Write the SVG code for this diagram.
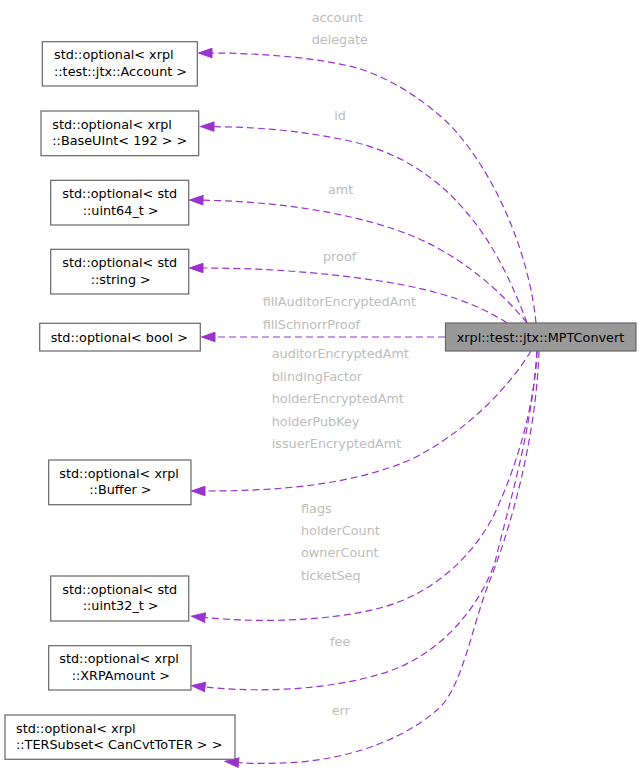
<svg xmlns="http://www.w3.org/2000/svg" width="641" height="770" viewBox="0 0 641 770">
<defs>
<style>
text{font-family:"DejaVu Sans","Liberation Sans",sans-serif;font-size:12.8px}
.n rect{fill:#ffffff;stroke:#666666;stroke-width:1.2}
.n text{fill:#000000}
.main rect{fill:#999999;stroke:#666666;stroke-width:1.2}
.e{fill:none;stroke:#9a32cd;stroke-width:1.2;stroke-dasharray:7,4;marker-end:url(#ah)}
.lbl{fill:#bdbdbd}
</style>
<marker id="ah" markerUnits="userSpaceOnUse" markerWidth="16" markerHeight="12" refX="0" refY="5" orient="auto" viewBox="0 0 16 10" overflow="visible">
<polygon points="0,0.3 13.5,5 0,9.7" fill="#9a32cd" stroke="#9a32cd" stroke-width="1"/>
</marker>
</defs>
<rect width="641" height="770" fill="#ffffff"/>
<g id="connectors">
<path class="e" d="M536,323 C530,260 500,180 452,127 C425,100 390,78 357,68 C320,58 260,53 212,53"/>
<path class="e" d="M527,323 C515,290 495,245 467,213 C440,180 400,150 340,139 C300,131 260,127 214,126.7"/>
<path class="e" d="M527,323 C500,290 460,255 410,235 C370,219 300,202 203,200.2"/>
<path class="e" d="M507,323 C480,305 440,290 380,281 C320,272 260,268 203,268"/>
<path class="e" d="M445,337 L215,337"/>
<path class="e" d="M531,351 C510,385 470,430 410,460 C350,485 280,491 205,491"/>
<path class="e" d="M537,351 C535,400 520,460 493,517 C470,560 430,595 380,608 C330,621 260,623 205,617.5"/>
<path class="e" d="M537,351 C532,430 510,500 495,562 C482,600 450,645 400,667 C350,688 270,694 205,687"/>
<path class="e" d="M539,351 C536,440 510,530 490,580 C472,625 462,690 437,710 C405,738 355,757 300,762 C270,764 250,763.5 238.5,762.5"/>
</g>
<g id="labels">
<text class="lbl" x="311.7" y="21.6">account</text>
<text class="lbl" x="311.7" y="44">delegate</text>
<text class="lbl" x="334.3" y="119.5">id</text>
<text class="lbl" x="328" y="194">amt</text>
<text class="lbl" x="323" y="261">proof</text>
<text class="lbl" x="262.7" y="306">fillAuditorEncryptedAmt</text>
<text class="lbl" x="262.7" y="328.5">fillSchnorrProof</text>
<text class="lbl" x="271.7" y="358">auditorEncryptedAmt</text>
<text class="lbl" x="271.7" y="381">blindingFactor</text>
<text class="lbl" x="271.7" y="403.3">holderEncryptedAmt</text>
<text class="lbl" x="271.7" y="425.7">holderPubKey</text>
<text class="lbl" x="271.7" y="448">issuerEncryptedAmt</text>
<text class="lbl" x="301" y="512.5">flags</text>
<text class="lbl" x="301" y="534.8">holderCount</text>
<text class="lbl" x="301" y="557">ownerCount</text>
<text class="lbl" x="301" y="579.5">ticketSeq</text>
<text class="lbl" x="330" y="645.5">fee</text>
<text class="lbl" x="331.7" y="715">err</text>
</g>
<g id="node-main" class="main">
<rect x="445.5" y="323" width="190.5" height="28"/>
<text x="456.7" y="341.5">xrpl::test::jtx::MPTConvert</text>
</g>
<g id="node-account" class="n">
<rect x="42.3" y="41.7" width="155" height="44.3"/>
<text x="54" y="59.2">std::optional&lt; xrpl</text>
<text x="54" y="75.9">::test::jtx::Account &gt;</text>
</g>
<g id="node-baseuint" class="n">
<rect x="41" y="111" width="157.7" height="44.7"/>
<text x="52.3" y="128.5">std::optional&lt; xrpl</text>
<text x="52.3" y="145.2">::BaseUInt&lt; 192 &gt; &gt;</text>
</g>
<g id="node-uint64" class="n">
<rect x="50.7" y="180.3" width="138" height="44.7"/>
<text x="62.3" y="197.8">std::optional&lt; std</text>
<text x="82.7" y="214.5">::uint64_t &gt;</text>
</g>
<g id="node-string" class="n">
<rect x="50.7" y="249.3" width="138" height="44.7"/>
<text x="62.3" y="266.8">std::optional&lt; std</text>
<text x="90.7" y="283.5">::string &gt;</text>
</g>
<g id="node-bool" class="n">
<rect x="39.7" y="323.3" width="160.6" height="27.7"/>
<text x="50.7" y="341.5">std::optional&lt; bool &gt;</text>
</g>
<g id="node-buffer" class="n">
<rect x="48.7" y="460" width="142.3" height="44.7"/>
<text x="59.3" y="477.5">std::optional&lt; xrpl</text>
<text x="89.3" y="494.2">::Buffer &gt;</text>
</g>
<g id="node-uint32" class="n">
<rect x="50.7" y="576" width="138" height="45"/>
<text x="62.3" y="593.5">std::optional&lt; std</text>
<text x="82.7" y="610.2">::uint32_t &gt;</text>
</g>
<g id="node-xrpamount" class="n">
<rect x="48.7" y="645.7" width="142.3" height="44.3"/>
<text x="59.3" y="663.2">std::optional&lt; xrpl</text>
<text x="71.7" y="679.9">::XRPAmount &gt;</text>
</g>
<g id="node-tersubset" class="n">
<rect x="5" y="715" width="230" height="44.3"/>
<text x="16" y="732.5">std::optional&lt; xrpl</text>
<text x="16" y="749.2">::TERSubset&lt; CanCvtToTER &gt; &gt;</text>
</g>
</svg>
